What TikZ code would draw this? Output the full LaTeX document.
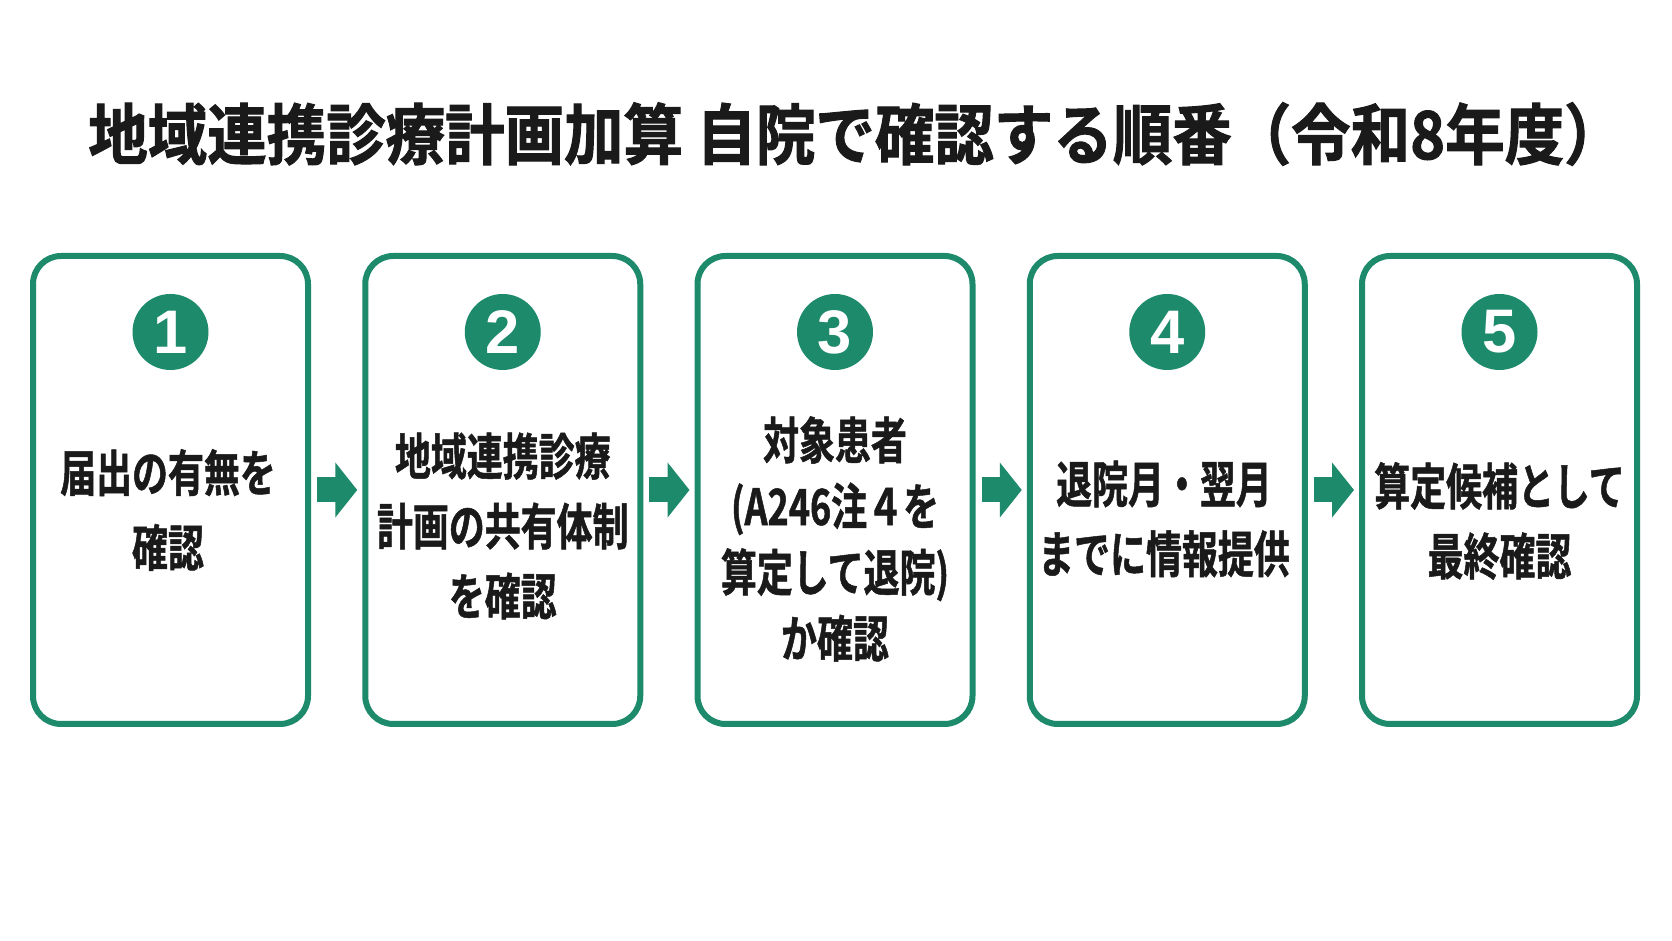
\documentclass[tikz,border=0pt]{standalone}
\usepackage{fontspec}
\setmainfont{Liberation Sans}
\newfontfamily\jpbold[FakeStretch=0.72,FakeBold=1]{Noto Sans CJK JP Bold}
\newfontfamily\jptitle[FakeStretch=0.90,FakeBold=1.5]{Noto Sans CJK JP Bold}
\usetikzlibrary{arrows.meta}
\definecolor{stepgreen}{HTML}{1D8A6B}
\definecolor{inkblack}{HTML}{1A1A1A}
\tikzstyle{stepbox}=[draw=stepgreen,line width=0.6mm,rounded corners=2.8mm,minimum width=27.5mm,minimum height=46.8mm,outer sep=0pt,inner sep=0pt]
\tikzstyle{numdot}=[circle,fill=stepgreen,text=white,minimum size=7.6mm,inner sep=0pt,font=\bfseries\fontsize{17.5pt}{17.5pt}\selectfont]
\tikzstyle{steptext}=[align=center,text=inkblack,inner sep=0pt,font=\jpbold\fontsize{14.2pt}{19.9pt}\selectfont]
\tikzstyle{flow}=[stepgreen,line width=2.5mm,-{Triangle[length=2.2mm,width=5.4mm]},shorten <=0.9mm,shorten >=0.8mm]

\begin{document}
\begin{tikzpicture}[x=0.1mm,y=-0.1mm]
                  \fill [white] (0,0) rectangle (1672,941);
                  \useasboundingbox (0,0) rectangle (1672,941);

                  \node (title) at (856,134) [text=inkblack,font=\jptitle\fontsize{18.8pt}{18.8pt}\selectfont] {地域連携診療計画加算 自院で確認する順番（令和8年度）};

                  \node (s1) at (170.5,490) [stepbox] {};
                  \node (s2) at (502.75,490) [stepbox] {};
                  \node (s3) at (835,490) [stepbox] {};
                  \node (s4) at (1167.25,490) [stepbox] {};
                  \node (s5) at (1499.5,490) [stepbox] {};

                  \node (n1) at (170.5,332) [numdot] {1};
                  \node (n2) at (502.75,332) [numdot] {2};
                  \node (n3) at (835,332) [numdot] {3};
                  \node (n4) at (1167.25,332) [numdot] {4};
                  \node (n5) at (1499.5,332) [numdot] {5};

                  \node (t1) at (168,510) [steptext,font=\jpbold\fontsize{14.2pt}{21.3pt}\selectfont] {届出の有無を\\確認};
                  \node (t2) at (502.75,526) [steptext] {地域連携診療\\計画の共有体制\\を確認};
                  \node (t3) at (835,539) [steptext,font=\jpbold\fontsize{14.2pt}{18.8pt}\selectfont] {対象患者\\(A246注４を\\算定して退院)\\か確認};
                  \node (t4) at (1164,519) [steptext] {退院月・翌月\\までに情報提供};
                  \node (t5) at (1499.5,521) [steptext] {算定候補として\\最終確認};

                  \draw [flow] (s1) -- (s2);
                  \draw [flow] (s2) -- (s3);
                  \draw [flow] (s3) -- (s4);
                  \draw [flow] (s4) -- (s5);
              \end{tikzpicture}
\end{document}
